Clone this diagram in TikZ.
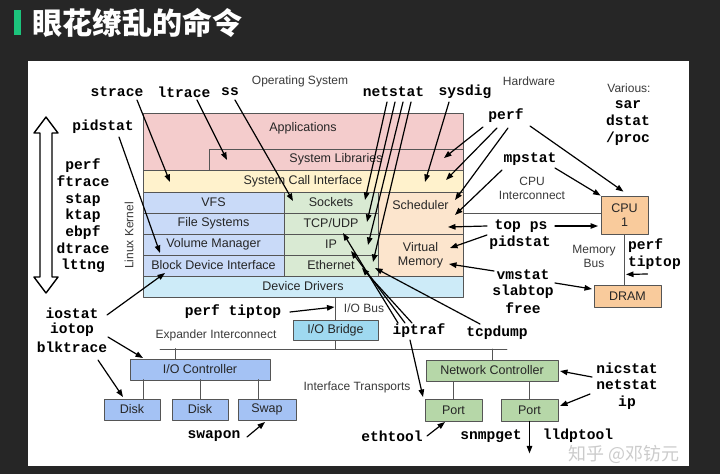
\documentclass[tikz,border=0pt]{standalone}
\usepackage{fontspec}
\setmainfont{Liberation Sans}
\setmonofont{Liberation Mono}
\newfontfamily\cjk{Noto Sans CJK SC}
\usetikzlibrary{arrows.meta}
\usetikzlibrary{positioning}
\usetikzlibrary{calc}

\definecolor{bgdark}{HTML}{262626}
\definecolor{titlegreen}{HTML}{1CC47C}
\definecolor{boxline}{HTML}{555555}
\definecolor{lblgray}{HTML}{3A3A3A}
\definecolor{appcol}{HTML}{F4CCCC}
\definecolor{sciecol}{HTML}{FFF2CC}
\definecolor{fscol}{HTML}{C9DAF8}
\definecolor{netstk}{HTML}{D9EAD3}
\definecolor{schedcol}{HTML}{FCE5CD}
\definecolor{drvcol}{HTML}{CDEBF8}
\definecolor{bridgecol}{HTML}{9FD9F0}
\definecolor{ctrlcol}{HTML}{A4C2F4}
\definecolor{nicol}{HTML}{B6D7A8}
\definecolor{hwcol}{HTML}{F9CB9C}

\newcommand{\boxfont}{\fontsize{12.5}{14}\selectfont}
\newcommand{\cmdfont}{\fontsize{14.6}{16.7}\selectfont\ttfamily\bfseries}

\tikzset{
  layer/.style={draw=boxline, line width=0.8pt, inner sep=0pt, align=center, text=black!85, font=\boxfont},
  labin/.style={inner sep=0pt, anchor=north, text=black!85, font=\boxfont},
  cmd/.style={inner sep=0pt, align=center, font=\cmdfont},
  lbl/.style={inner sep=0pt, align=center, text=lblgray, font=\fontsize{12}{14}\selectfont},
  tool/.style={->, line width=1.2pt},
  bus/.style={draw=boxline, line width=0.8pt}
}

\begin{document}
\begin{tikzpicture}[x=1pt,y=-1pt,>={Triangle[length=7.5pt,width=5.5pt]},line cap=round,line join=round]
\useasboundingbox (0,0) rectangle (720,474);
\fill[bgdark] (0,0) rectangle (720,474);
\fill[titlegreen] (14,10) rectangle (21,35);
\node[anchor=west, inner sep=0pt, text=white, font=\cjk\bfseries\fontsize{30}{32}\selectfont] (title) at (32,23) {眼花缭乱的命令};
\fill[white] (28,61) rectangle (689,466);

% software stack
\node[layer, fill=appcol, minimum width=320pt, minimum height=57pt,
  label={[labin, yshift=-9.5pt]north:Applications}] (apps) at (303,141.5) {};
\node[layer, fill=appcol, minimum width=254pt, minimum height=21pt] (syslib) at (336,159.5) {System Libraries};
\node[layer, fill=sciecol, minimum width=320pt, minimum height=22pt] (syscall) at (303,181) {System Call Interface};
\foreach \n/\t/\y in {vfs/VFS/202.5, fs/File Systems/223.5, volmgr/Volume Manager/244.5, blockdev/Block Device Interface/265.5}
  \node[layer, fill=fscol, minimum width=141pt, minimum height=21pt] (\n) at (213.5,\y) {\t};
\foreach \n/\t/\y in {sockets/Sockets/202.5, tcpudp/TCP\slash UDP/223.5, ip/IP/244.5, ether/Ethernet/265.5}
  \node[layer, fill=netstk, minimum width=94pt, minimum height=21pt] (\n) at (331,\y) {\t};
\node[layer, fill=schedcol, minimum width=85pt, minimum height=42pt,
  label={[labin, yshift=-8.5pt]north:Scheduler}] (sched) at (420.5,213) {};
\node[layer, fill=schedcol, minimum width=85pt, minimum height=42pt] (vm) at (420.5,255) {Virtual\\Memory};
\node[layer, fill=drvcol, minimum width=320pt, minimum height=21pt] (drivers) at (303,286.5) {Device Drivers};
\node[lbl, rotate=90] (kernel) at (129,235.5) {Linux Kernel};
\node[lbl] (oslbl) at (300,81) {Operating System};
\node[lbl] (hwlbl) at (529,81) {Hardware};

% hardware
\node[layer, fill=hwcol, minimum width=47pt, minimum height=38pt] (cpu) at (624.5,215) {CPU\\1};
\node[layer, fill=hwcol, minimum width=67pt, minimum height=22pt] (dram) at (627.5,296) {DRAM};
\draw[bus] (sched.east) -- (sched.east -| cpu.west);
\draw[bus] (cpu.south) -- (cpu.south |- dram.north);
\node[lbl] (cpuic) at (532,188) {CPU\\Interconnect};
\node[lbl] (membus) at (594,256.5) {Memory\\Bus};

\node[layer, fill=bridgecol, minimum width=85pt, minimum height=20pt] (iobridge) at (335.5,330) {I/O Bridge};
\draw[bus] (iobridge.north) -- (iobridge.north |- drivers.south);
\node[lbl] (iobus) at (364,308) {I/O Bus};
\coordinate (xbl) at (160,349);
\coordinate (xbr) at (507,349);
\draw[bus] (xbl) -- (xbr);
\draw[bus] (iobridge.south) -- (iobridge.south |- xbl);
\node[lbl] (expander) at (216,335) {Expander Interconnect};

\node[layer, fill=ctrlcol, minimum width=140pt, minimum height=21pt] (ioctrl) at (200,369.5) {I/O Controller};
\foreach \n/\t/\x/\w in {disk1/Disk/132/56, disk2/Disk/200/56, swap/Swap/267/58}
  \node[layer, fill=ctrlcol, minimum width=\w pt, minimum height=21pt] (\n) at (\x,409.5) {\t};
\draw[bus] ($(ioctrl.north west)+(46,0)$) -- +(0,-10);
\draw[bus] ($(disk1.north)+(11,0)$) -- +(0,-19);
\draw[bus] (disk2.north) -- +(0,-19);
\draw[bus] ($(swap.north)+(-9,0)$) -- +(0,-19);

\node[layer, fill=nicol, minimum width=132pt, minimum height=21pt] (netctrl) at (492,370.5) {Network Controller};
\node[layer, fill=nicol, minimum width=57pt, minimum height=22pt] (port1) at (453.5,410) {Port};
\node[layer, fill=nicol, minimum width=57pt, minimum height=22pt] (port2) at (529.5,410) {Port};
\draw[bus] (netctrl.north) -- (netctrl.north |- xbr);
\draw[bus] (port1.north) -- (port1.north |- netctrl.south);
\draw[bus] (port2.north) -- (port2.north |- netctrl.south);
\node[lbl] (transports) at (357,387) {Interface Transports};

% left arrow
\draw[line width=1.4pt, fill=white] (46,117) -- (58,133) -- (52,133) -- (52,277) -- (58,277) -- (46,293)
  -- (34,277) -- (40,277) -- (40,133) -- (34,133) -- cycle;

% tools
\node[cmd] (strace) at (117,92) {strace};
\node[cmd] (ltrace) at (184,92) {ltrace};
\node[cmd] (ss) at (230,92) {ss};
\node[cmd] (netstat) at (393.5,92) {netstat};
\node[cmd] (sysdig) at (465,92) {sysdig};
\node[cmd] (perfhw) at (506,116) {perf};
\node[cmd] (mpstat) at (530,159) {mpstat};
\node[lbl] (various) at (629,88) {Various:};
\node[cmd] (sar) at (628,123) {sar\\dstat\\/proc};
\node[cmd] (pidstat) at (103,127) {pidstat};
\node[cmd] (tracers) at (83,216) {perf\\ftrace\\stap\\ktap\\ebpf\\dtrace\\lttng};
\node[cmd] (topps) at (521,226) {top ps};
\node[cmd] (pidstathw) at (520,243) {pidstat};
\node[cmd, align=left, anchor=west] (perftip) at (628,254) {perf\\tiptop};
\node[cmd] (vmstat) at (523,275) {vmstat};
\node[cmd] (slabtop) at (523,292) {slabtop};
\node[cmd] (free) at (523,308) {free};
\node[cmd] (iostat) at (72,313) {iostat};
\node[cmd] (iotop) at (72,330) {iotop};
\node[cmd] (blktrace) at (72,347) {blktrace};
\node[cmd] (perfio) at (233,312) {perf tiptop};
\node[cmd] (iptraf) at (419,331) {iptraf};
\node[cmd] (tcpdump) at (497,333) {tcpdump};
\node[cmd] (swapon) at (214,436) {swapon};
\node[cmd] (ethtool) at (392,436) {ethtool};
\node[cmd] (snmpget) at (491,436) {snmpget};
\node[cmd] (lldptool) at (578,436) {lldptool};
\node[cmd] (nicstat) at (627,368) {nicstat};
\node[cmd] (netstatnic) at (627,385) {netstat};
\node[cmd] (ipnic) at (627,403) {ip};

\draw[tool] ($(strace)+(20,8)$) -- ($(syscall)+(-133,1)$);
\draw[tool] ($(ltrace)+(13,8)$) -- ($(syslib)+(-109,0.5)$);
\draw[tool] ($(ss)+(5,8)$) -- ($(sockets)+(-38,-1.5)$);
\draw[tool] ($(pidstat)+(16,10)$) -- ($(volmgr)+(-53.5,8.5)$);
\draw[tool] ($(netstat)+(-6.5,10)$) -- ($(sockets)+(34,-2.5)$);
\draw[tool] ($(netstat)+(1.5,10)$) -- ($(tcpudp)+(36,-1.5)$);
\draw[tool] ($(netstat)+(9.5,10)$) -- ($(ip)+(37,0.5)$);
\draw[tool] ($(netstat)+(17.5,10)$) -- ($(ether)+(42,-3.5)$);
\draw[tool] ($(sysdig)+(-16,10)$) -- ($(syscall)+(122,1)$);
\draw[tool] ($(perfhw)+(-23,11)$) -- ($(syslib)+(108,-1.5)$);
\draw[tool] ($(perfhw)+(-9,12)$) -- ($(syscall)+(143,-1)$);
\draw[tool] ($(perfhw)+(2,12)$) -- ($(sched)+(34.5,-13)$);
\draw[tool] ($(perfhw)+(24,10)$) -- ($(cpu.north)+(-1,-4)$);
\draw[tool] ($(mpstat)+(-28,11)$) -- ($(sched)+(34.5,2)$);
\draw[tool] ($(mpstat)+(25,9)$) -- (cpu.north west);
\draw[tool] ($(topps)+(-34,0)$) -- ($(sched)+(27.5,14)$);
\draw[tool] ($(topps)+(34,0)$) -- ($(cpu)+(-26.5,11)$);
\draw[tool] ($(pidstathw)+(-33,-8)$) -- ($(vm)+(29.5,-7)$);
\draw[tool] ($(vmstat)+(-29,-4)$) -- ($(vm)+(28.5,9)$);
\draw[tool] ($(vmstat)+(32,8)$) -- ($(dram)+(-35.5,-7)$);
\draw[tool] ($(perftip)+(-7,20)$) -- ($(cpu.south)+(1.5,40)$);
\draw[tool] ($(iostat)+(35,2)$) -- ($(blockdev)+(-48.5,7.5)$);
\draw[tool] ($(iotop)+(36,7)$) -- ($(ioctrl)+(-57,-11.5)$);
\draw[tool] ($(blktrace)+(26,13)$) -- ($(disk1)+(-9,-12.5)$);
\draw[tool] ($(perfio)+(57,0)$) -- ($(iobridge)+(-1,-23)$);
\draw[tool] ($(iptraf)+(-21,-8)$) -- ($(tcpudp)+(12,9.5)$);
\draw[tool] ($(iptraf)+(-14,-8)$) -- ($(ip)+(20,6.5)$);
\draw[tool] ($(iptraf)+(-7,-8)$) -- ($(ether)+(31,2.5)$);
\draw[tool] ($(iptraf)+(-9,9)$) -- ($(port1)+(-30.5,-13)$);
\draw[tool] ($(tcpdump)+(-17,-9)$) -- ($(ether)+(44,2.5)$);
\draw[tool] ($(swapon)+(33,1)$) -- ($(swap)+(-2,12.5)$);
\draw[tool] ($(ethtool)+(35,0)$) -- ($(port1)+(-8.5,12)$);
\draw[tool] ($(nicstat)+(-35,9)$) -- ($(netctrl)+(68,0.5)$);
\draw[tool] ($(netstatnic)+(-37,9)$) -- ($(port2)+(30.5,-4)$);
\coordinate (lldpend) at ($(port2.south)+(0,32)$);
\draw[tool] (port2.south) -- (lldpend);

\node[anchor=west, inner sep=0pt, text=gray!50, opacity=0.8, font=\cjk\fontsize{18}{20}\selectfont] (mark) at (568,454) {知乎 @邓钫元};
\end{tikzpicture}
\end{document}
